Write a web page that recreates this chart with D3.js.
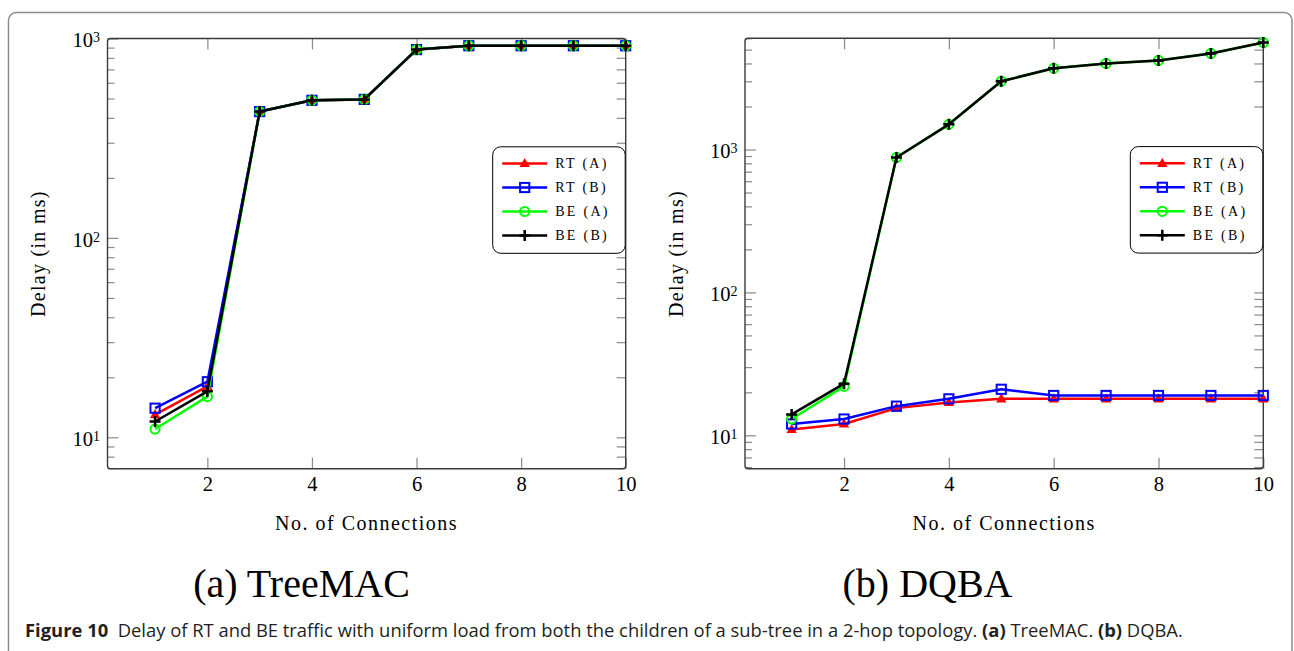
<!DOCTYPE html>
<html><head><meta charset="utf-8">
<script src="https://cdn.jsdelivr.net/npm/d3@7"></script>
<style>body{margin:0;background:#fff} svg{display:block}</style>
</head><body>
<svg id="c" width="1294" height="651"></svg>
<script>
// ---------- data ----------
const connections = [1, 2, 3, 4, 5, 6, 7, 8, 9, 10];
const xTickValues = [2, 4, 6, 8, 10];
const seriesNames = ["RT (A)", "RT (B)", "BE (A)", "BE (B)"];

// (a) TreeMAC
const treeRT_A = [13, 18, 430, 490, 495, 880, 920, 920, 920, 920];
const treeRT_B = [14, 19, 430, 490, 495, 880, 920, 920, 920, 920];
const treeBE_A = [11, 16, 430, 490, 495, 880, 920, 920, 920, 920];
const treeBE_B = [12, 17, 430, 490, 495, 880, 920, 920, 920, 920];

// (b) DQBA
const dqbaRT_A = [11, 12, 15.5, 17, 18, 18, 18, 18, 18, 18];
const dqbaRT_B = [12, 13, 16, 18, 21, 19, 19, 19, 19, 19];
const dqbaBE_A = [13, 22, 880, 1500, 3000, 3700, 4000, 4200, 4700, 5600];
const dqbaBE_B = [14, 23, 880, 1500, 3000, 3700, 4000, 4200, 4700, 5600];

const panelTitles = ["(a) TreeMAC", "(b) DQBA"];
const yLabel = "Delay (in ms)";
const xLabel = "No. of Connections";
const captionParts = [
  {t: "Figure 10", b: true},
  {t: "\u00a0\u00a0Delay of RT and BE traffic with uniform load from both the children of a sub-tree in a 2-hop topology. ", b: false},
  {t: "(a)", b: true},
  {t: " TreeMAC. ", b: false},
  {t: "(b)", b: true},
  {t: " DQBA.", b: false}
];

// ---------- styles ----------
const colors = ["#ff0000", "#0000ff", "#00ff00", "#000000"];
const markers = ["triangle", "square", "circle", "plus"];
const serif = "'Liberation Serif', 'Times New Roman', serif";

const svg = d3.select("#c");

// outer frame
svg.append("rect").attr("x", 8.5).attr("y", 12.5).attr("width", 1283.5).attr("height", 700)
  .attr("rx", 8).attr("fill", "none").attr("stroke", "#8a8a8a").attr("stroke-width", 1.5);

function drawMarker(g, type, color) {
  if (type === "triangle") {
    g.append("path").attr("d", "M0,-5.5L5.2,3.6L-5.2,3.6Z").attr("fill", color);
  } else if (type === "square") {
    g.append("rect").attr("x", -4.6).attr("y", -4.6).attr("width", 9.2).attr("height", 9.2)
      .attr("fill", "none").attr("stroke", color).attr("stroke-width", 2);
  } else if (type === "circle") {
    g.append("circle").attr("r", 4.6).attr("fill", "none").attr("stroke", color).attr("stroke-width", 2);
  } else {
    g.append("path").attr("d", "M-5.5,0H5.5M0,-5.5V5.5").attr("stroke", color).attr("stroke-width", 2.5);
  }
}

function drawPanel(cfg) {
  const x = d3.scaleLinear().domain(cfg.xDomain).range([cfg.left, cfg.right]);
  const y = d3.scaleLog().domain(cfg.yDomain).range([cfg.bottom, cfg.top]);
  const g = svg.append("g");
  const isMajor = v => Math.abs(Math.log10(v) - Math.round(Math.log10(v))) < 1e-9;
  const yTicks = y.ticks().filter(v => v >= cfg.yDomain[0] && v <= cfg.yDomain[1]);

  // left axis
  const ax = g.append("g").attr("transform", `translate(${cfg.left},0)`)
    .call(d3.axisLeft(y).tickValues(yTicks).tickSizeInner(-11).tickSizeOuter(0).tickPadding(7.5));
  ax.select(".domain").remove();
  ax.selectAll(".tick line").attr("stroke", "#8a8a8a").attr("stroke-width", 1.2)
    .attr("x2", d => isMajor(d) ? 11 : 7);
  ax.selectAll(".tick text").each(function(d) {
    const t = d3.select(this);
    t.text(null);
    if (!isMajor(d)) return;
    t.attr("dy", "0.4em").attr("font-family", serif).attr("font-size", 20.5).attr("fill", "#000");
    t.append("tspan").text("10");
    t.append("tspan").attr("dy", "-0.36em").attr("font-size", 14).text(Math.round(Math.log10(d)));
  });
  // right axis (mirror)
  const ar = g.append("g").attr("transform", `translate(${cfg.right},0)`)
    .call(d3.axisRight(y).tickValues(yTicks).tickSizeInner(-9).tickSizeOuter(0).tickFormat(""));
  ar.select(".domain").remove();
  ar.selectAll(".tick line").attr("stroke", "#8a8a8a").attr("stroke-width", 1.2);
  // bottom axis
  const ab = g.append("g").attr("transform", `translate(0,${cfg.bottom})`)
    .call(d3.axisBottom(x).tickValues(xTickValues).tickSizeInner(-11).tickSizeOuter(0).tickPadding(8));
  ab.select(".domain").remove();
  ab.selectAll(".tick line").attr("stroke", "#8a8a8a").attr("stroke-width", 1.2);
  ab.selectAll(".tick text").attr("font-family", serif).attr("font-size", 20.5).attr("fill", "#000");
  // top axis (mirror)
  const at = g.append("g").attr("transform", `translate(0,${cfg.top})`)
    .call(d3.axisTop(x).tickValues(xTickValues).tickSizeInner(-11).tickSizeOuter(0).tickFormat(""));
  at.select(".domain").remove();
  at.selectAll(".tick line").attr("stroke", "#8a8a8a").attr("stroke-width", 1.2);

  // frame
  g.append("rect").attr("x", cfg.left).attr("y", cfg.top)
    .attr("width", cfg.right - cfg.left).attr("height", cfg.bottom - cfg.top)
    .attr("rx", 3).attr("fill", "none").attr("stroke", "#3a3a3a").attr("stroke-width", 1.4);

  // series
  const line = d3.line().x((d, i) => x(connections[i])).y(d => y(d));
  cfg.series.forEach((vals, si) => {
    g.append("path").datum(vals).attr("d", line).attr("fill", "none")
      .attr("stroke", colors[si]).attr("stroke-width", 2.5).attr("stroke-linejoin", "round");
    vals.forEach((v, i) => {
      const mg = g.append("g").attr("transform", `translate(${x(connections[i])},${y(v)})`);
      drawMarker(mg, markers[si], colors[si]);
    });
  });

  // legend
  const lw = 132.5, lh = 106.5;
  const lx = cfg.right - lw - 0.5, ly = cfg.top + 108.3;
  const lg = g.append("g").attr("transform", `translate(${lx},${ly})`);
  lg.append("rect").attr("width", lw).attr("height", lh).attr("rx", 8)
    .attr("fill", "#fff").attr("stroke", "#000").attr("stroke-width", 1);
  seriesNames.forEach((name, si) => {
    const ey = 16.7 + si * 24;
    lg.append("line").attr("x1", 9.5).attr("x2", 54.5).attr("y1", ey).attr("y2", ey)
      .attr("stroke", colors[si]).attr("stroke-width", 2.5);
    drawMarker(lg.append("g").attr("transform", `translate(32,${ey})`), markers[si], colors[si]);
    lg.append("text").attr("x", 62.5).attr("y", ey + 4.5).attr("font-family", serif)
      .attr("font-size", 14).attr("letter-spacing", 2.3).text(name);
  });

  // axis titles
  svg.append("text").attr("x", (cfg.left + cfg.right) / 2).attr("y", 530)
    .attr("text-anchor", "middle").attr("font-family", serif).attr("font-size", 20)
    .attr("letter-spacing", 1.5).text(xLabel);
  svg.append("text").attr("transform", `translate(${cfg.ylabX},${(cfg.top + cfg.bottom) / 2}) rotate(-90)`)
    .attr("text-anchor", "middle").attr("font-family", serif).attr("font-size", 20)
    .attr("letter-spacing", 1.3).text(yLabel);
  // subfigure title
  svg.append("text").attr("x", cfg.titleX).attr("y", 597).attr("text-anchor", "middle")
    .attr("font-family", serif).attr("font-size", 40).text(cfg.title);
}

drawPanel({
  left: 107.5, right: 625.7, top: 38.5, bottom: 468.7,
  xDomain: [0.09, 10], yDomain: [6.96, 1000],
  series: [treeRT_A, treeRT_B, treeBE_A, treeBE_B],
  ylabX: 45, titleX: 301.5, title: panelTitles[0]
});
drawPanel({
  left: 745, right: 1263.3, top: 38.3, bottom: 468.7,
  xDomain: [0.11, 10], yDomain: [5.84, 6000],
  series: [dqbaRT_A, dqbaRT_B, dqbaBE_A, dqbaBE_B],
  ylabX: 682.7, titleX: 927.5, title: panelTitles[1]
});

// caption (horizontally condensed to match the narrow journal font)
const capG = svg.append("g");
const cap = capG.append("text").attr("x", 0).attr("y", 0)
  .attr("font-family", "'Open Sans', 'Noto Sans', sans-serif").attr("font-size", 18.5)
  .attr("fill", "#231f20");
captionParts.forEach(p => cap.append("tspan").attr("font-weight", p.b ? "bold" : "normal").text(p.t));
const capW = cap.node().getComputedTextLength();
capG.attr("transform", `translate(25,637) scale(${1158 / capW},1)`);
</script>
</body></html>
